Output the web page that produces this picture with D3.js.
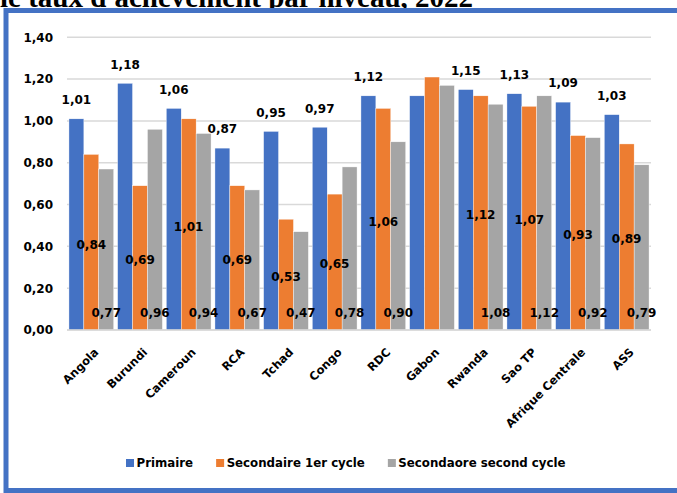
<!DOCTYPE html>
<html>
<head>
<meta charset="utf-8">
<script src="https://cdn.jsdelivr.net/npm/d3@7"></script>
<style>
  html, body { margin: 0; padding: 0; background: #fff; }
  svg { display: block; }
</style>
</head>
<body>
<div id="chart"></div>
<script>
const categories = ["Angola", "Burundi", "Cameroun", "RCA", "Tchad", "Congo", "RDC", "Gabon", "Rwanda", "Sao TP", "Afrique Centrale", "ASS"];
const seriesNames = ["Primaire", "Secondaire 1er cycle", "Secondaore second cycle"];
const primaire   = [1.01, 1.18, 1.06, 0.87, 0.95, 0.97, 1.12, 1.12, 1.15, 1.13, 1.09, 1.03];
const secondaire1 = [0.84, 0.69, 1.01, 0.69, 0.53, 0.65, 1.06, 1.21, 1.12, 1.07, 0.93, 0.89];
const secondaire2 = [0.77, 0.96, 0.94, 0.67, 0.47, 0.78, 0.90, 1.17, 1.08, 1.12, 0.92, 0.79];
// Gabon has no data labels in the source
const showLabel = [true, true, true, true, true, true, true, false, true, true, true, true];
const yTicks = [0, 0.2, 0.4, 0.6, 0.8, 1.0, 1.2, 1.4];
const titleText = "le taux d'achèvement par niveau, 2022";
const colors = ["#4472C4", "#ED7D31", "#A5A5A5"];

const W = 677, H = 493;
const svg = d3.select("#chart").append("svg").attr("width", W).attr("height", H);
const font = "'DejaVu Sans', Verdana, sans-serif";

// title (cut off above the frame, as in the source)
svg.append("text").attr("x", 0).attr("y", 7)
  .attr("font-family", "'Liberation Serif', 'Times New Roman', serif")
  .attr("font-weight", "bold").attr("font-size", 29).attr("fill", "#000")
  .text(titleText);

// frame
svg.append("rect").attr("x", 6).attr("y", 10.5).attr("width", W + 20).attr("height", 480)
  .attr("fill", "#fff").attr("stroke", "#4472C4").attr("stroke-width", 5);

const x0 = d3.scaleBand().domain(categories).range([67, 651]).paddingInner(0.08).paddingOuter(0.04);
const x1 = d3.scaleBand().domain(d3.range(3)).range([0, x0.bandwidth()]).padding(0);
const y = d3.scaleLinear().domain([0, 1.4]).range([330, 37.3]);

// gridlines
svg.append("g").selectAll("line").data(yTicks).join("line")
  .attr("x1", 67).attr("x2", 651)
  .attr("y1", d => y(d)).attr("y2", d => y(d))
  .attr("stroke", "#D9D9D9").attr("stroke-width", 1.5);

// y axis labels
const fmt = d => d3.format(".2f")(d).replace(".", ",");
svg.append("g").selectAll("text").data(yTicks).join("text")
  .attr("x", 53).attr("y", d => y(d)).attr("dy", "0.36em")
  .attr("text-anchor", "end").attr("font-family", font).attr("font-weight", "bold")
  .attr("font-size", 12).attr("fill", "#000").text(fmt);

const series = [primaire, secondaire1, secondaire2];
const rows = [];
categories.forEach((c, i) => series.forEach((s, k) => rows.push({ c, i, k, v: s[i] })));

svg.append("g").selectAll("rect").data(rows).join("rect")
  .attr("x", d => x0(d.c) + x1(d.k)).attr("width", x1.bandwidth())
  .attr("y", d => y(d.v)).attr("height", d => y(0) - y(d.v))
  .attr("fill", d => colors[d.k])
  .attr("stroke", "#fff").attr("stroke-width", 0.4);

// baseline
svg.append("line").attr("x1", 67).attr("x2", 651).attr("y1", y(0)).attr("y2", y(0))
  .attr("stroke", "#D9D9D9").attr("stroke-width", 1.5);

// data labels
const labelY = d => {
  if (d.k === 0) return y(d.v) - 19;
  if (d.k === 1) return y(d.v / 2) + 2;
  return 312.7;
};
svg.append("g").selectAll("text").data(rows.filter(d => showLabel[d.i])).join("text")
  .attr("x", d => x0(d.c) + x1(d.k) + x1.bandwidth() / 2)
  .attr("y", labelY).attr("dy", "0.36em")
  .attr("text-anchor", "middle").attr("font-family", font).attr("font-weight", "bold")
  .attr("font-size", 12).attr("fill", "#000").text(d => fmt(d.v));

// x labels
svg.append("g").selectAll("text").data(categories).join("text")
  .attr("transform", c => `translate(${x0(c) + x0.bandwidth() / 2 + 8},${353}) rotate(-45)`)
  .attr("text-anchor", "end").attr("font-family", font).attr("font-weight", "bold")
  .attr("font-size", 11.5).attr("fill", "#000").text(c => c);

// legend
const lg = svg.append("g");
let lx = 126;
seriesNames.forEach((name, k) => {
  lg.append("rect").attr("x", lx).attr("y", 459).attr("width", 8).attr("height", 8).attr("fill", colors[k]);
  const t = lg.append("text").attr("x", lx + 10.5).attr("y", 463).attr("dy", "0.36em")
    .attr("font-family", font).attr("font-weight", "bold").attr("font-size", 11.8)
    .attr("fill", "#000").text(name);
  lx += 10.5 + t.node().getComputedTextLength() + 23;
});
</script>
</body>
</html>
